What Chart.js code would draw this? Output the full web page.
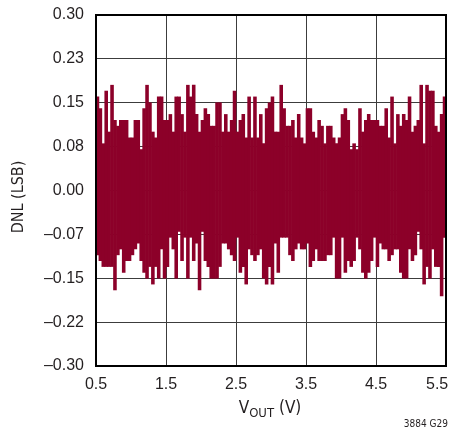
<!DOCTYPE html>
<html>
<head>
<meta charset="utf-8">
<script src="https://cdn.jsdelivr.net/npm/chart.js@4"></script>
<style>
  html, body { margin: 0; padding: 0; background: #fff; }
  canvas { display: block; }
</style>
</head>
<body>
<canvas id="chart" width="460" height="436"></canvas>
<script>
// DNL envelope, 120 columns across 0.5V..5.5V
const topDNL = [
  0.16, 0.14, 0.08, 0.17, 0.10, 0.18, 0.12, 0.11, 0.12, 0.12,
  0.12, 0.09, 0.09, 0.12, 0.12, 0.07, 0.14, 0.18, 0.15, 0.10,
  0.09, 0.16, 0.16, 0.12, 0.12, 0.13, 0.10, 0.16, 0.16, 0.13,
  0.10, 0.18, 0.16, 0.18, 0.13, 0.10, 0.12, 0.14, 0.13, 0.11,
  0.11, 0.15, 0.15, 0.10, 0.13, 0.10, 0.12, 0.17, 0.10, 0.12,
  0.13, 0.09, 0.16, 0.09, 0.16, 0.09, 0.13, 0.08, 0.14, 0.15,
  0.16, 0.10, 0.10, 0.18, 0.14, 0.11, 0.11, 0.12, 0.09, 0.13,
  0.09, 0.08, 0.14, 0.14, 0.10, 0.09, 0.12, 0.11, 0.08, 0.11,
  0.11, 0.09, 0.08, 0.09, 0.13, 0.14, 0.12, 0.07, 0.08, 0.07,
  0.14, 0.10, 0.12, 0.13, 0.12, 0.12, 0.12, 0.11, 0.11, 0.14,
  0.09, 0.16, 0.08, 0.13, 0.11, 0.13, 0.12, 0.16, 0.10, 0.11,
  0.12, 0.18, 0.08, 0.18, 0.17, 0.17, 0.11, 0.10, 0.13, 0.16
];
const botDNL = [
  -0.11, -0.12, -0.13, -0.13, -0.13, -0.13, -0.17, -0.11, -0.10, -0.14,
  -0.12, -0.12, -0.11, -0.10, -0.09, -0.12, -0.14, -0.15, -0.13, -0.16,
  -0.13, -0.15, -0.10, -0.15, -0.13, -0.08, -0.10, -0.15, -0.07, -0.12,
  -0.08, -0.15, -0.08, -0.12, -0.09, -0.17, -0.07, -0.12, -0.13, -0.15,
  -0.15, -0.15, -0.13, -0.09, -0.09, -0.10, -0.11, -0.12, -0.08, -0.14,
  -0.13, -0.16, -0.10, -0.11, -0.12, -0.11, -0.10, -0.15, -0.16, -0.13,
  -0.16, -0.09, -0.14, -0.08, -0.08, -0.08, -0.11, -0.12, -0.10, -0.09,
  -0.10, -0.10, -0.09, -0.13, -0.12, -0.10, -0.12, -0.12, -0.12, -0.11,
  -0.11, -0.08, -0.15, -0.15, -0.08, -0.14, -0.12, -0.13, -0.12, -0.08,
  -0.10, -0.14, -0.15, -0.14, -0.12, -0.08, -0.13, -0.09, -0.10, -0.10,
  -0.12, -0.11, -0.10, -0.10, -0.14, -0.15, -0.15, -0.10, -0.12, -0.11,
  -0.07, -0.10, -0.16, -0.13, -0.15, -0.10, -0.13, -0.13, -0.18, -0.08
];
const xLabels = ['0.5', '1.5', '2.5', '3.5', '4.5', '5.5'];
const yLabels = ['\u20130.30', '\u20130.22', '\u20130.15', '\u20130.07', '0.00', '0.08', '0.15', '0.23', '0.30'];

const tickFont = { family: "'Liberation Sans', Arial, sans-serif", size: 16 };
const titleFamily = "'Liberation Sans Narrow', 'DejaVu Sans Condensed', 'Liberation Sans', sans-serif";
const ink = '#231f20';

// column centres along VOUT
const points = topDNL.map((hi, i) => ({ x: 0.5 + (i + 0.5) * 5 / topDNL.length, y: [botDNL[i], hi] }));

// keep the plot box fixed: no extra room for overhanging end labels
function noOverhang(s) {
  s.paddingTop = 0; s.paddingBottom = 0; s.paddingLeft = 0; s.paddingRight = 0;
}

const frameAndTitles = {
  id: 'frameAndTitles',
  afterDatasetsDraw(chart) {
    const { ctx, chartArea: a } = chart;
    ctx.save();
    ctx.strokeStyle = '#000';
    ctx.lineWidth = 2;
    ctx.strokeRect(a.left, a.top, a.right - a.left, a.bottom - a.top);
    ctx.restore();
  },
  afterDraw(chart) {
    const ctx = chart.ctx;
    ctx.save();
    ctx.fillStyle = ink;
    // y title
    ctx.translate(19, 197);
    ctx.rotate(-Math.PI / 2);
    ctx.font = '16px ' + titleFamily;
    ctx.textAlign = 'center';
    ctx.textBaseline = 'middle';
    ctx.fillText('DNL (LSB)', 0, 0);
    ctx.restore();

    // x title with subscript
    ctx.save();
    ctx.fillStyle = ink;
    ctx.textBaseline = 'alphabetic';
    ctx.textAlign = 'left';
    const big = '17px ' + titleFamily, small = '13px ' + titleFamily;
    ctx.font = big; const wV = ctx.measureText('V').width; const wRest = ctx.measureText(' (V)').width;
    ctx.font = small; const wSub = ctx.measureText('OUT').width;
    let x = 270 - (wV + wSub + wRest) / 2;
    const base = 413;
    ctx.font = big; ctx.fillText('V', x, base); x += wV;
    ctx.font = small; ctx.fillText('OUT', x, base + 4); x += wSub;
    ctx.font = big; ctx.fillText(' (V)', x, base);
    // figure note
    ctx.font = '10px ' + titleFamily;
    ctx.textAlign = 'right';
    ctx.fillText('3884 G29', 448, 427);
    ctx.restore();
  }
};

new Chart(document.getElementById('chart'), {
  type: 'bar',
  data: {
    datasets: [{
      data: points,
      backgroundColor: '#8c0029',
      borderWidth: 0,
      barPercentage: 1,
      categoryPercentage: 1,
      grouped: false
    }]
  },
  options: {
    responsive: false,
    animation: false,
    devicePixelRatio: 1,
    layout: { padding: { top: 15, right: 14, left: 0, bottom: 0 } },
    plugins: { legend: { display: false }, tooltip: { enabled: false } },
    scales: {
      x: {
        type: 'linear',
        min: 0.5, max: 5.5,
        offset: false,
        grid: { offset: false, color: '#3c3c3c', lineWidth: 1, drawTicks: false },
        border: { display: false },
        ticks: { stepSize: 1, padding: 9, color: ink, font: tickFont, maxRotation: 0,
          // last label sits a little inside the right edge, as in the original
          callback: (v, i, all) => i === all.length - 1 ? xLabels[i] + '    ' : xLabels[i] },
        afterFit: (s) => { s.height = 70; noOverhang(s); }
      },
      y: {
        min: -0.3, max: 0.3,
        grid: { color: '#3c3c3c', lineWidth: 1, drawTicks: false },
        border: { display: false },
        ticks: { stepSize: 0.075, padding: 12, color: ink, font: tickFont,
          callback: (v, i) => yLabels[i] },
        afterFit: (s) => { s.width = 96; noOverhang(s); }
      }
    }
  },
  plugins: [frameAndTitles]
});
</script>
</body>
</html>
